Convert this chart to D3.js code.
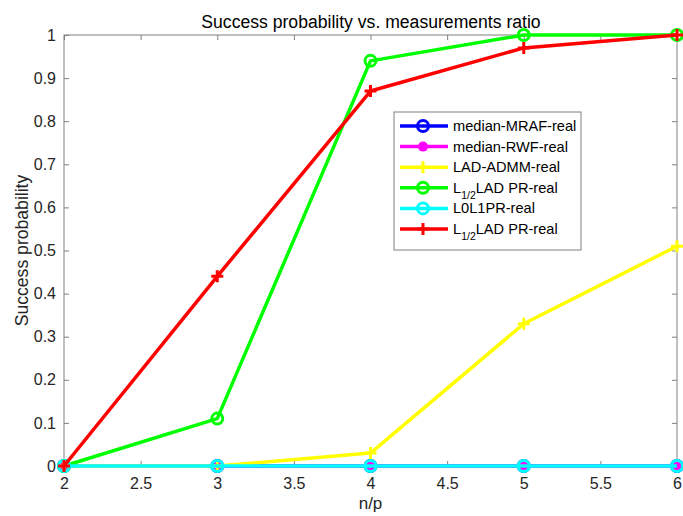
<!DOCTYPE html>
<html><head><meta charset="utf-8">
<script src="https://cdn.jsdelivr.net/npm/d3@7"></script>
<style>body{margin:0;background:#fff;} text{font-family:"Liberation Sans",Arial,sans-serif;}</style>
</head><body>
<svg id="c" width="683" height="516"></svg>
<script>
const xVals = [2, 3, 4, 5, 6];
const mrafVals = [0, 0, 0, 0, 0];
const rwfVals = [0, 0, 0, 0, 0];
const admmVals = [0, 0, 0.03, 0.33, 0.51];
const ladGreenVals = [0, 0.11, 0.94, 1, 1];
const l0l1Vals = [0, 0, 0, 0, 0];
const ladRedVals = [0, 0.44, 0.87, 0.97, 1];
const xTicks = [2, 2.5, 3, 3.5, 4, 4.5, 5, 5.5, 6];
const yTicks = [0, 0.1, 0.2, 0.3, 0.4, 0.5, 0.6, 0.7, 0.8, 0.9, 1];
const seriesNames = ["median-MRAF-real", "median-RWF-real", "LAD-ADMM-real", "L1/2LAD PR-real", "L0L1PR-real", "L1/2LAD PR-real"];

const series = [
  {name: seriesNames[0], vals: mrafVals, color: "#0000ff", marker: "circle"},
  {name: seriesNames[1], vals: rwfVals, color: "#ff00ff", marker: "dot"},
  {name: seriesNames[2], vals: admmVals, color: "#ffff00", marker: "plus"},
  {name: seriesNames[3], vals: ladGreenVals, color: "#00ff00", marker: "circle"},
  {name: seriesNames[4], vals: l0l1Vals, color: "#00ffff", marker: "circle"},
  {name: seriesNames[5], vals: ladRedVals, color: "#ff0000", marker: "plus"}
];

const svg = d3.select("#c");
const L = 64, R = 677, T = 35, B = 466;
const x = d3.scaleLinear().domain([2, 6]).range([L, R]);
const y = d3.scaleLinear().domain([0, 1]).range([B, T]);
const axisColor = "#808080";
const textColor = "#262626";

svg.append("rect").attr("x", L).attr("y", T).attr("width", R - L).attr("height", B - T)
  .attr("fill", "none").attr("stroke", axisColor).attr("stroke-width", 1);

function styleAxis(g) {
  g.select(".domain").remove();
  g.selectAll(".tick line").attr("stroke", axisColor);
  g.selectAll(".tick text").attr("fill", textColor).attr("font-size", 16);
}
svg.append("g").attr("transform", `translate(0,${B})`)
  .call(d3.axisBottom(x).tickValues(xTicks).tickSizeInner(-5).tickSizeOuter(0).tickPadding(12).tickFormat(d3.format("")))
  .call(styleAxis);
svg.append("g").attr("transform", `translate(0,${T})`)
  .call(d3.axisTop(x).tickValues(xTicks).tickSizeInner(-5).tickSizeOuter(0).tickFormat(""))
  .call(styleAxis);
svg.append("g").attr("transform", `translate(${L},0)`)
  .call(d3.axisLeft(y).tickValues(yTicks).tickSizeInner(-5).tickSizeOuter(0).tickPadding(8).tickFormat(d3.format("")))
  .call(styleAxis);
svg.append("g").attr("transform", `translate(${R},0)`)
  .call(d3.axisRight(y).tickValues(yTicks).tickSizeInner(-5).tickSizeOuter(0).tickFormat(""))
  .call(styleAxis);

svg.append("text").attr("x", (L + R) / 2 + 0.5).attr("y", 28).attr("text-anchor", "middle")
  .attr("font-size", 17.6).attr("fill", "#000").text("Success probability vs. measurements ratio");
svg.append("text").attr("x", (L + R) / 2).attr("y", 509).attr("text-anchor", "middle")
  .attr("font-size", 17).attr("fill", textColor).text("n/p");
svg.append("text").attr("transform", `translate(28,${(T + B) / 2}) rotate(-90)`).attr("text-anchor", "middle")
  .attr("font-size", 17.6).attr("fill", textColor).text("Success probability");

function drawMarker(g, m, cx, cy, color) {
  if (m === "circle") {
    g.append("circle").attr("cx", cx).attr("cy", cy).attr("r", 5.5)
      .attr("fill", "none").attr("stroke", color).attr("stroke-width", 3);
  } else if (m === "dot") {
    g.append("circle").attr("cx", cx).attr("cy", cy).attr("r", 5).attr("fill", color);
  } else if (m === "plus") {
    g.append("path").attr("d", `M${cx-6},${cy}H${cx+6}M${cx},${cy-6}V${cy+6}`)
      .attr("stroke", color).attr("stroke-width", 3);
  }
}

const line = d3.line().x((d, i) => x(xVals[i])).y(d => y(d));
const plot = svg.append("g");
series.forEach(s => {
  const g = plot.append("g");
  g.append("path").datum(s.vals).attr("d", line).attr("fill", "none")
    .attr("stroke", s.color).attr("stroke-width", 3.5).attr("stroke-linejoin", "round");
  s.vals.forEach((v, i) => drawMarker(g, s.marker, x(xVals[i]), y(v), s.color));
});

const lx = 394, ly = 112, lw = 187, lh = 138;
const leg = svg.append("g");
leg.append("rect").attr("x", lx).attr("y", ly).attr("width", lw).attr("height", lh)
  .attr("fill", "#fff").attr("stroke", axisColor).attr("stroke-width", 1);
series.forEach((s, i) => {
  const cy = 126 + i * 20.6;
  leg.append("line").attr("x1", 400).attr("x2", 448).attr("y1", cy).attr("y2", cy)
    .attr("stroke", s.color).attr("stroke-width", 3.5);
  drawMarker(leg, s.marker, 423, cy, s.color);
  const t = leg.append("text").attr("x", 453).attr("y", cy + 5).attr("font-size", 14.6).attr("fill", "#000");
  if (s.name.startsWith("L1/2")) {
    t.append("tspan").text("L");
    t.append("tspan").attr("font-size", 10.5).attr("dy", 6).text("1/2");
    t.append("tspan").attr("dy", -6).text(s.name.slice(4));
  } else {
    t.text(s.name);
  }
});
</script>
</body></html>
